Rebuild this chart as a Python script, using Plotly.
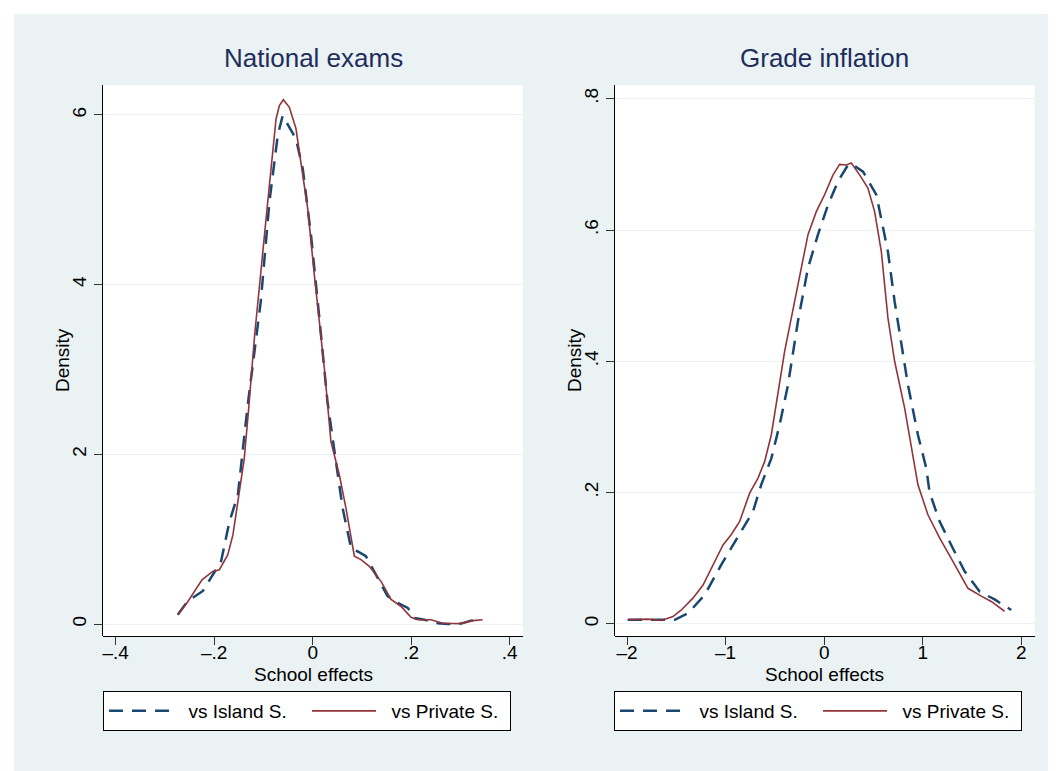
import plotly.graph_objects as go

# national exams - school effect densities
nat_island_x = [-0.274, -0.254, -0.223, -0.202, -0.186, -0.169, -0.152, -0.132, -0.1055, -0.088, -0.071, -0.061,
                -0.034, -0.020, -0.0034, 0.0136, 0.030, 0.049, 0.061, 0.078, 0.0914, 0.108, 0.132, 0.152,
                0.1726, 0.193, 0.2065, 0.227, 0.254, 0.274, 0.301, 0.321, 0.342]
nat_island_y = [0.11, 0.27, 0.39, 0.58, 0.74, 1.21, 1.52, 2.58, 3.8, 4.97, 5.76, 5.99,
                5.72, 5.36, 4.58, 3.6, 2.62, 1.84, 1.36, 0.89, 0.855, 0.80, 0.54, 0.33,
                0.25, 0.19, 0.07, 0.05, 0.01, 0.0, 0.005, 0.04, 0.05]
nat_private_x = [-0.274, -0.254, -0.2248, -0.203, -0.1895, -0.1726, -0.162, -0.152, -0.139, -0.130, -0.118,
                 -0.0914, -0.0745, -0.0677, -0.0596, -0.0474, -0.034, -0.024, -0.010, 0.0034, 0.0237, 0.037,
                 0.0406, 0.054, 0.0677, 0.0846, 0.098, 0.115, 0.139, 0.159, 0.179, 0.1997, 0.213, 0.240,
                 0.264, 0.301, 0.325, 0.345]
nat_private_y = [0.11, 0.26, 0.52, 0.62, 0.64, 0.815, 1.05, 1.44, 1.95, 2.54, 3.40,
                 4.97, 5.95, 6.11, 6.18, 6.09, 5.84, 5.44, 4.89, 4.11, 3.01, 2.15,
                 2.07, 1.76, 1.36, 0.80, 0.76, 0.68, 0.50, 0.29, 0.21, 0.08, 0.05, 0.05,
                 0.01, 0.005, 0.04, 0.05]

# grade inflation - school effect densities
gi_island_x = [-1.99, -1.787, -1.515, -1.38, -1.212, -1.043, -0.874, -0.722, -0.638, -0.536, -0.452, -0.367,
               -0.266, -0.164, -0.063, 0.039, 0.140, 0.241, 0.275, 0.394, 0.529, 0.580, 0.647, 0.715,
               0.782, 0.85, 0.951, 1.036, 1.07, 1.171, 1.289, 1.425, 1.577, 1.729, 1.898]
gi_island_y = [0.006, 0.006, 0.006, 0.016, 0.044, 0.09, 0.133, 0.171, 0.212, 0.252, 0.303, 0.364,
               0.461, 0.542, 0.593, 0.638, 0.674, 0.699, 0.701, 0.689, 0.654, 0.618, 0.567, 0.491,
               0.425, 0.364, 0.288, 0.237, 0.20, 0.156, 0.120, 0.080, 0.049, 0.037, 0.021]
gi_private_x = [-1.997, -1.787, -1.652, -1.534, -1.449, -1.331, -1.229, -1.11, -1.026, -0.942, -0.857, -0.756,
                -0.671, -0.604, -0.536, -0.401, -0.299, -0.232, -0.164, -0.080, 0.005, 0.090, 0.157,
                0.224, 0.275, 0.36, 0.444, 0.512, 0.580, 0.647, 0.715, 0.816, 0.918, 0.951, 1.053,
                1.171, 1.306, 1.459, 1.594, 1.695, 1.83]
gi_private_y = [0.006, 0.007, 0.005, 0.011, 0.021, 0.039, 0.059, 0.095, 0.120, 0.136, 0.156, 0.199,
                0.222, 0.247, 0.288, 0.415, 0.491, 0.542, 0.593, 0.628, 0.654, 0.684, 0.700,
                0.699, 0.702, 0.684, 0.664, 0.628, 0.567, 0.466, 0.40, 0.329, 0.237, 0.212, 0.166,
                0.131, 0.095, 0.054, 0.042, 0.034, 0.019]

nat_xticks = [-0.4, -0.2, 0, 0.2, 0.4]
nat_xlabels = ["\u2013.4", "\u2013.2", "0", ".2", ".4"]
nat_yticks = [0, 2, 4, 6]
nat_ylabels = ["0", "2", "4", "6"]
gi_xticks = [-2, -1, 0, 1, 2]
gi_xlabels = ["\u20132", "\u20131", "0", "1", "2"]
gi_yticks = [0, 0.2, 0.4, 0.6, 0.8]
gi_ylabels = ["0", ".2", ".4", ".6", ".8"]

W, H = 1056, 771
BG = "#eaf2f3"
NAVY = "#1a476f"
MAROON = "#90353b"
FONT = "Arial, Liberation Sans, sans-serif"
SP = "\u00a0\u00a0"  # little gap between legend sample and label

def px(x):
    return x / W

def py(y):
    return 1 - y / H

fig = go.Figure()
fig.add_trace(go.Scatter(x=nat_island_x, y=nat_island_y, mode="lines", name=SP + "vs Island S.",
                         line=dict(color=NAVY, width=2.5, dash="14px,9px"), xaxis="x", yaxis="y",
                         legend="legend"))
fig.add_trace(go.Scatter(x=nat_private_x, y=nat_private_y, mode="lines", name=SP + "vs Private S.",
                         line=dict(color=MAROON, width=1.6), xaxis="x", yaxis="y", legend="legend"))
fig.add_trace(go.Scatter(x=gi_island_x, y=gi_island_y, mode="lines", name=SP + "vs Island S.",
                         line=dict(color=NAVY, width=2.5, dash="14px,9px"), xaxis="x2", yaxis="y2",
                         legend="legend2"))
fig.add_trace(go.Scatter(x=gi_private_x, y=gi_private_y, mode="lines", name=SP + "vs Private S.",
                         line=dict(color=MAROON, width=1.6), xaxis="x2", yaxis="y2", legend="legend2"))

tickfont = dict(family=FONT, size=19, color="#000")
common_x = dict(showgrid=False, zeroline=False, showline=True, linecolor="#000", linewidth=1,
                ticks="outside", ticklen=8, tickcolor="#333", tickfont=tickfont, anchor="free",
                ticklabelstandoff=-9)
common_y = dict(showgrid=True, gridcolor=BG, gridwidth=1, zeroline=False, showline=True,
                linecolor="#000", linewidth=1, ticks="outside", ticklen=8, tickcolor="#333",
                tickfont=tickfont, tickangle=-90)
legfont = dict(family=FONT, size=19, color="#000")
common_leg = dict(xanchor="left", yanchor="top", orientation="h", bgcolor="white",
                  bordercolor="#000", borderwidth=1, itemwidth=64, entrywidth=124, font=legfont)

ydom = [py(628), py(77)]
fig.update_layout(
    width=W, height=H,
    margin=dict(l=0, r=0, t=0, b=0),
    paper_bgcolor=BG, plot_bgcolor="white",
    font=dict(family=FONT),
    xaxis=dict(common_x, domain=[px(95), px(515)], range=[-0.4258, 0.427],
               tickvals=nat_xticks, ticktext=nat_xlabels, position=py(628)),
    yaxis=dict(common_y, domain=ydom, range=[-0.141, 6.353], anchor="x",
               tickvals=nat_yticks, ticktext=nat_ylabels),
    xaxis2=dict(common_x, domain=[px(606.7), px(1026.7)], range=[-2.125, 2.136],
                tickvals=gi_xticks, ticktext=gi_xlabels, position=py(628)),
    yaxis2=dict(common_y, domain=ydom, range=[-0.0187, 0.821], anchor="x2",
                tickvals=gi_yticks, ticktext=gi_ylabels),
    legend=dict(common_leg, x=px(95), y=py(683)),
    legend2=dict(common_leg, x=px(606), y=py(683)),
    showlegend=True,
)

titlefont = dict(family=FONT, size=26, color="#1e2d5c")
labfont = dict(family=FONT, size=19, color="#000")
fig.add_annotation(x=px(305), y=py(50), xref="paper", yref="paper", text="National exams",
                   showarrow=False, font=titlefont, xanchor="center", yanchor="middle")
fig.add_annotation(x=px(816), y=py(50), xref="paper", yref="paper", text="Grade inflation",
                   showarrow=False, font=titlefont, xanchor="center", yanchor="middle")
fig.add_annotation(x=px(305), y=py(666), xref="paper", yref="paper", text="School effects",
                   showarrow=False, font=labfont, xanchor="center", yanchor="middle")
fig.add_annotation(x=px(816), y=py(666), xref="paper", yref="paper", text="School effects",
                   showarrow=False, font=labfont, xanchor="center", yanchor="middle")
fig.add_annotation(x=px(55), y=py(352), xref="paper", yref="paper", text="Density", textangle=-90,
                   showarrow=False, font=labfont, xanchor="center", yanchor="middle")
fig.add_annotation(x=px(567), y=py(352), xref="paper", yref="paper", text="Density", textangle=-90,
                   showarrow=False, font=labfont, xanchor="center", yanchor="middle")

# thin white strips at top and left edge
fig.add_shape(type="rect", xref="paper", yref="paper", x0=0, x1=1, y0=py(6), y1=1,
              fillcolor="white", line_width=0, layer="below")
fig.add_shape(type="rect", xref="paper", yref="paper", x0=0, x1=px(6), y0=0, y1=1,
              fillcolor="white", line_width=0, layer="below")

fig.write_html("out.html")
